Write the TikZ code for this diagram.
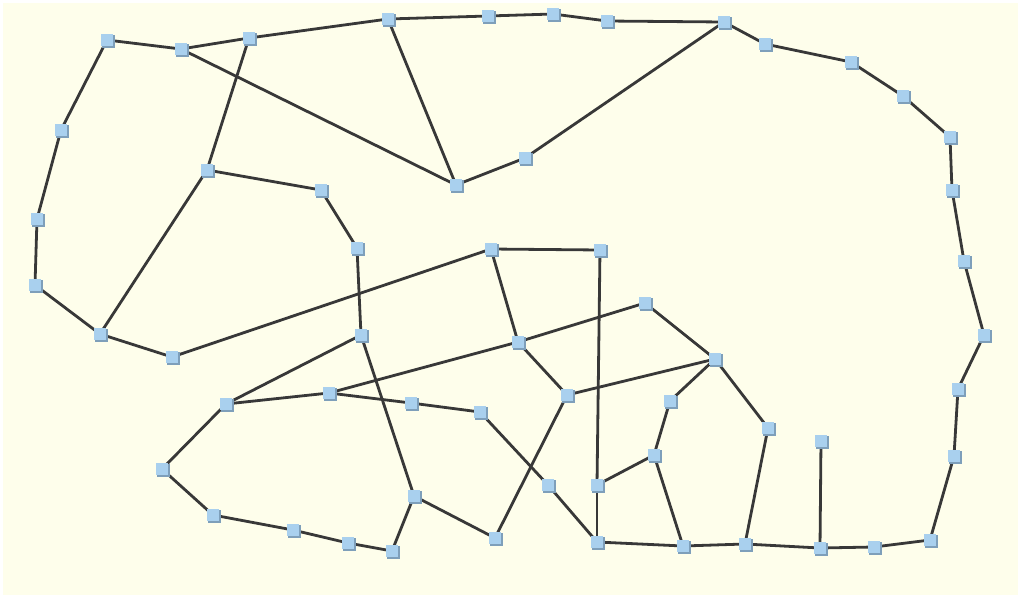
\documentclass[tikz,border=0pt]{standalone}
\usetikzlibrary{shadows}
\definecolor{bg}{HTML}{FEFEEB}
\definecolor{nodefill}{HTML}{A9D0EE}
\definecolor{nodeshadow}{HTML}{7E9FBA}
\definecolor{edgecol}{HTML}{383838}
\begin{document}
\begin{tikzpicture}[x=1pt,y=-1pt,
  vtx/.style={rectangle,fill=nodefill,minimum size=12.5pt,inner sep=0pt,
    drop shadow={shadow xshift=1.6pt,shadow yshift=-1.6pt,fill=nodeshadow,opacity=1}},
  edge/.style={draw=edgecol,line width=2.8pt}]
\fill[white] (0,0) rectangle (1018,595);
\fill[bg] (3,3) rectangle (1018,595);
\useasboundingbox (0,0) rectangle (1018,595);
% nodes
\foreach \n/\x/\y in {
 A1/107/40, A2/181/49, A3/249/38, A4/388/19, A5/488/16, A6/553/14, A7/607/21,
 A8/724/22, A9/765/44, A10/851/62, A11/903/96, A12/950/137, A13/952/190,
 A14/964/261, A15/984/335, A16/958/389, A17/954/456, A18/930/540, A19/874/547,
 A20/820/548, A21/745/544, A22/683/546, A23/597/542,
 L1/61/130, L2/37/219, L3/35/285, L4/100/334, L5/172/357,
 B1/207/170, C1/321/190, C2/357/248, C3/361/335,
 M/456/185, M2/525/158,
 D1/491/249, D2/600/250, D3/518/342, E/597/485,
 F1/645/303, F2/715/359, F3/670/401, F4/654/455, F5/768/428,
 G1/567/395, H1/226/404, H2/329/393, H3/411/403, H4/480/412, K1/548/485,
 I1/162/469, I2/213/515, I3/293/530, I4/348/543, I5/392/551,
 J1/414/496, J2/495/538, P/821/441}
 {\coordinate (\n) at (\x,\y);}
% edges
\foreach \a/\b in {
 A1/A2, A2/A3, A3/A4, A4/A5, A5/A6, A6/A7, A7/A8, A8/A9, A9/A10, A10/A11,
 A11/A12, A12/A13, A13/A14, A14/A15, A15/A16, A16/A17, A17/A18, A18/A19,
 A19/A20, A20/A21, A21/A22, A22/A23,
 A1/L1, L1/L2, L2/L3, L3/L4, L4/L5, L5/D1,
 A3/B1, B1/L4, B1/C1, C1/C2, C2/C3,
 A2/M, A4/M, M/M2, M2/A8,
 D1/D2, D1/D3, D2/E, E/A23, E/F4, D3/F1, D3/G1, D3/H2,
 C3/H1, C3/J1, H1/H2, H2/H3, H3/H4, H4/K1, K1/A23,
 H1/I1, I1/I2, I2/I3, I3/I4, I4/I5, I5/J1, J1/J2, J2/G1,
 G1/F2, F1/F2, F2/F3, F3/F4, F4/A22, F2/F5, F5/A21, P/A20}
 {\draw[edge] (\a) -- (\b);}
\foreach \n in {A1,A2,A3,A4,A5,A6,A7,A8,A9,A10,A11,A12,A13,A14,A15,A16,A17,A18,A19,A20,A21,A22,A23,
 L1,L2,L3,L4,L5,B1,C1,C2,C3,M,M2,D1,D2,D3,E,F1,F2,F3,F4,F5,G1,H1,H2,H3,H4,K1,I1,I2,I3,I4,I5,J1,J2,P}
 {\node[vtx] (n\n) at (\n) {};}
\end{tikzpicture}
\end{document}
